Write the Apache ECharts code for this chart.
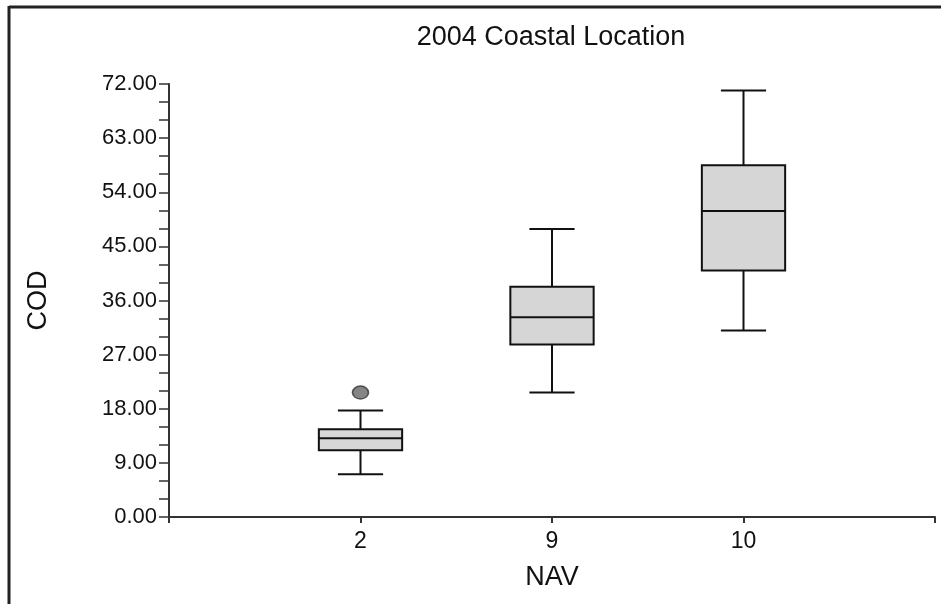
<!DOCTYPE html>
<html>
<head>
<meta charset="utf-8">
<script src="https://cdn.jsdelivr.net/npm/echarts@6/dist/echarts.min.js"></script>
<style>
html, body { margin: 0; padding: 0; background: #fff; }
#main { width: 941px; height: 604px; }
</style>
</head>
<body>
<div id="main"></div>
<script>
// NAV groups and box statistics
var categories = ['2', '9', '10'];
var mins    = [7.1, 20.7, 31.0];
var q1s     = [11.1, 28.7, 41.0];
var medians = [13.1, 33.2, 50.9];
var q3s     = [14.6, 38.3, 58.5];
var maxs    = [17.7, 47.9, 70.9];
// outliers: [group index, value]
var outliers = [[0, 20.7]];
var yTicks = [0, 9, 18, 27, 36, 45, 54, 63, 72];

var boxData = categories.map(function (c, i) {
    return [i + 1, mins[i], q1s[i], medians[i], q3s[i], maxs[i]];
});
var outlierData = outliers.map(function (o) { return [o[0] + 1, o[1]]; });

var myChart = echarts.init(document.getElementById('main'));

function renderBox(params, api) {
    var x = api.value(0);
    var unit = api.size([1, 0])[0];
    var boxW = unit * 0.435;
    var capW = unit * 0.236;
    var pMin = api.coord([x, api.value(1)]);
    var pQ1 = api.coord([x, api.value(2)]);
    var pMed = api.coord([x, api.value(3)]);
    var pQ3 = api.coord([x, api.value(4)]);
    var pMax = api.coord([x, api.value(5)]);
    var line = { stroke: '#111', lineWidth: 2 };
    return {
        type: 'group',
        children: [
            { type: 'line', shape: { x1: pMin[0], y1: pMin[1], x2: pQ1[0], y2: pQ1[1] }, style: line },
            { type: 'line', shape: { x1: pQ3[0], y1: pQ3[1], x2: pMax[0], y2: pMax[1] }, style: line },
            { type: 'line', shape: { x1: pMin[0] - capW / 2, y1: pMin[1], x2: pMin[0] + capW / 2, y2: pMin[1] }, style: line },
            { type: 'line', shape: { x1: pMax[0] - capW / 2, y1: pMax[1], x2: pMax[0] + capW / 2, y2: pMax[1] }, style: line },
            { type: 'rect', shape: { x: pQ3[0] - boxW / 2, y: pQ3[1], width: boxW, height: pQ1[1] - pQ3[1] },
              style: { fill: '#d6d6d6', stroke: '#111', lineWidth: 2 } },
            { type: 'line', shape: { x1: pMed[0] - boxW / 2, y1: pMed[1], x2: pMed[0] + boxW / 2, y2: pMed[1] }, style: line }
        ]
    };
}

var option = {
    animation: false,
    backgroundColor: '#fff',
    textStyle: { fontFamily: 'Liberation Sans, Arial, sans-serif' },
    title: {
        text: '2004 Coastal Location',
        left: 546,
        textAlign: 'center',
        top: 19,
        textStyle: { fontSize: 27, fontWeight: 'normal', color: '#111', fontFamily: 'Liberation Sans, Arial, sans-serif' }
    },
    graphic: [
        { type: 'line', shape: { x1: 9, y1: 7, x2: 941, y2: 7 }, style: { stroke: '#222', lineWidth: 3 } },
        { type: 'line', shape: { x1: 9, y1: 6, x2: 9, y2: 604 }, style: { stroke: '#222', lineWidth: 3 } }
    ],
    grid: { left: 169, right: 6, top: 84, bottom: 87 },
    xAxis: {
        type: 'value',
        min: 0,
        max: categories.length + 1,
        interval: 1,
        name: 'NAV',
        nameLocation: 'middle',
        nameGap: 47,
        nameTextStyle: { fontSize: 27, color: '#111' },
        splitLine: { show: false },
        axisLine: { lineStyle: { color: '#333', width: 2 } },
        axisTick: { show: true, length: 6, lineStyle: { color: '#333', width: 2 } },
        axisLabel: {
            fontSize: 23, color: '#111', margin: 13,
            formatter: function (v) { return categories[v - 1] || ''; }
        }
    },
    yAxis: {
        type: 'value',
        min: yTicks[0],
        max: yTicks[yTicks.length - 1],
        interval: yTicks[1] - yTicks[0],
        name: 'COD',
        nameLocation: 'middle',
        nameGap: 117,
        nameRotate: 90,
        nameTextStyle: { fontSize: 27, color: '#111' },
        splitLine: { show: false },
        axisLine: { show: true, lineStyle: { color: '#333', width: 2 } },
        axisTick: { show: true, length: 10, lineStyle: { color: '#333', width: 1.5 } },
        minorTick: { show: true, splitNumber: 3, length: 10, lineStyle: { color: '#333', width: 1.5 } },
        axisLabel: {
            fontSize: 22, color: '#111', margin: 12,
            formatter: function (v) { return v.toFixed(2); }
        }
    },
    series: [
        {
            type: 'custom',
            renderItem: renderBox,
            data: boxData,
            encode: { x: 0, y: [1, 2, 3, 4, 5] },
            z: 3
        },
        {
            type: 'scatter',
            data: outlierData,
            symbol: 'circle',
            symbolSize: [16, 13],
            itemStyle: { color: '#666', borderColor: '#333', borderWidth: 1.5 },
            z: 4
        }
    ]
};

myChart.setOption(option);
</script>
</body>
</html>
